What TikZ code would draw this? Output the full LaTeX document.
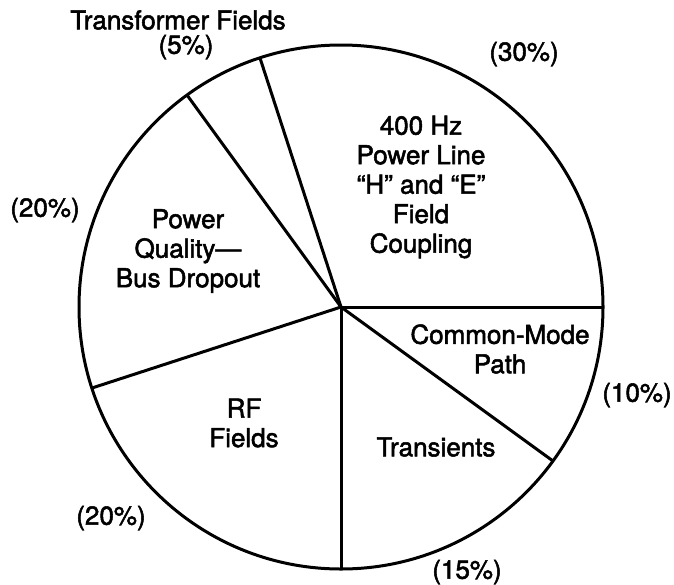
\documentclass[tikz,border=0pt]{standalone}
\usepackage{fontspec}
\setmainfont{TeX Gyre Heros}[FakeBold=2]
\begin{document}
\begin{tikzpicture}[x=1pt,y=-1pt,
  lbl/.style={font=\fontsize{26}{29.5}\selectfont, align=center, inner sep=0pt},
  edge/.style={line width=3pt, line join=round}]
\useasboundingbox (0,0) rectangle (674,584);
\coordinate (c) at (341,307);
\coordinate (p0) at (603,307);
\coordinate (p108) at (260,58);
\coordinate (p126) at (187,95);
\coordinate (p198) at (92,388);
\coordinate (p270) at (341,569);
\coordinate (p324) at (553,461);
\draw[edge] (c) circle (262pt);
\draw[edge] (c) -- (p0);
\draw[edge] (c) -- (p108);
\draw[edge] (c) -- (p126);
\draw[edge] (c) -- (p198);
\draw[edge] (c) -- (p270);
\draw[edge] (c) -- (p324);
\node[lbl] (tf) at (178,20) {Transformer Fields};
\node[lbl] (tfp) at (186,47) {(5\%)};
\node[lbl] (hzp) at (524,54) {(30\%)};
\node[lbl] (hz) at (421,187) {400 Hz\\Power Line\\``H'' and ``E''\\Field\\Coupling};
\node[lbl] (pqp) at (45,210) {(20\%)};
\node[lbl] (pq) at (188,251) {Power\\Quality---\\Bus Dropout};
\node[lbl] (cm) at (500,349) {Common-Mode\\Path};
\node[lbl] (cmp) at (637,395) {(10\%)};
\node[lbl] (tr) at (436,447) {Transients};
\node[lbl] (rf) at (244,423) {RF\\Fields};
\node[lbl] (rfp) at (111,518) {(20\%)};
\node[lbl] (trp) at (467,572) {(15\%)};
\end{tikzpicture}
\end{document}
